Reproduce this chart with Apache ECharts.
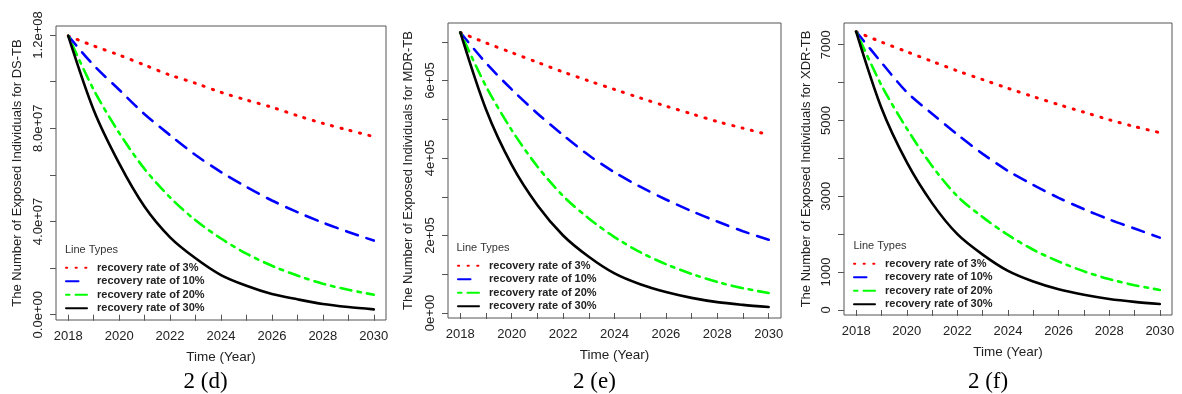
<!DOCTYPE html>
<html>
<head>
<meta charset="utf-8">
<script src="https://cdn.jsdelivr.net/npm/echarts@6/dist/echarts.min.js"></script>
<style>
  html, body { margin: 0; padding: 0; background: #fff; }
  #main { width: 1182px; height: 394px; }
</style>
</head>
<body>
<div id="main"></div>
<script>
// years on the x axis
var years = [2018, 2019, 2020, 2021, 2022, 2023, 2024, 2025, 2026, 2027, 2028, 2029, 2030];
var yearTicks = years;
var yearLabels = [2018, 2020, 2022, 2024, 2026, 2028, 2030];
var rateNames = ['recovery rate of 3%', 'recovery rate of 10%', 'recovery rate of 20%', 'recovery rate of 30%'];

// 2 (d) DS-TB
var ds3  = [1.196e8, 1.153e8, 1.114e8, 1.071e8, 1.028e8, 0.993e8, 0.954e8, 0.921e8, 0.890e8, 0.854e8, 0.821e8, 0.792e8, 0.764e8];
var ds10 = [1.196e8, 1.070e8, 0.965e8, 0.860e8, 0.770e8, 0.685e8, 0.612e8, 0.548e8, 0.490e8, 0.440e8, 0.395e8, 0.355e8, 0.318e8];
var ds20 = [1.196e8, 0.965e8, 0.780e8, 0.625e8, 0.503e8, 0.405e8, 0.327e8, 0.262e8, 0.210e8, 0.168e8, 0.133e8, 0.107e8, 0.086e8];
var ds30 = [1.196e8, 0.878e8, 0.649e8, 0.463e8, 0.332e8, 0.242e8, 0.170e8, 0.124e8, 0.0887e8, 0.066e8, 0.046e8, 0.033e8, 0.023e8];
var dsTicks = [0, 2e7, 4e7, 6e7, 8e7, 1e8, 1.2e8];
var dsLabelVals = [0, 4e7, 8e7, 1.2e8];
var dsLabelText = ['0.0e+00', '4.0e+07', '8.0e+07', '1.2e+08'];

// 2 (e) MDR-TB
var mdr3  = [7.24e5, 6.97e5, 6.72e5, 6.47e5, 6.22e5, 5.99e5, 5.77e5, 5.55e5, 5.34e5, 5.14e5, 4.94e5, 4.77e5, 4.60e5];
var mdr10 = [7.24e5, 6.45e5, 5.77e5, 5.15e5, 4.59e5, 4.07e5, 3.63e5, 3.26e5, 2.93e5, 2.63e5, 2.36e5, 2.11e5, 1.89e5];
var mdr20 = [7.24e5, 5.85e5, 4.72e5, 3.78e5, 3.02e5, 2.44e5, 1.96e5, 1.57e5, 1.26e5, 1.01e5, 0.80e5, 0.64e5, 0.515e5];
var mdr30 = [7.24e5, 5.25e5, 3.82e5, 2.78e5, 2.00e5, 1.45e5, 1.02e5, 0.74e5, 0.54e5, 0.39e5, 0.28e5, 0.21e5, 0.155e5];
var mdrTicks = [0, 1e5, 2e5, 3e5, 4e5, 5e5, 6e5, 7e5];
var mdrLabelVals = [0, 2e5, 4e5, 6e5];
var mdrLabelText = ['0e+00', '2e+05', '4e+05', '6e+05'];

// 2 (f) XDR-TB
var xdr3  = [7345, 7070, 6815, 6560, 6310, 6080, 5850, 5630, 5420, 5220, 5020, 4840, 4680];
var xdr10 = [7345, 6530, 5750, 5180, 4630, 4120, 3670, 3300, 2960, 2660, 2390, 2150, 1910];
var xdr20 = [7345, 5930, 4790, 3800, 3000, 2450, 1980, 1590, 1280, 1020, 815, 655, 530];
var xdr30 = [7345, 5330, 3900, 2820, 2000, 1460, 1030, 750, 545, 400, 290, 215, 160];
var xdrTicks = [0, 1000, 2000, 3000, 4000, 5000, 6000, 7000];
var xdrLabelVals = [0, 1000, 3000, 5000, 7000];
var xdrLabelText = ['0', '1000', '3000', '5000', '7000'];

var font = 'Liberation Sans, Arial, sans-serif';
var colors = ['#ff0000', '#0000ff', '#00ff00', '#000000'];
var dashes = [[1.2, 8.4], [12.5, 9], [3.5, 6, 11.5, 6], 'solid'];

var chart = echarts.init(document.getElementById('main'));

function xAxisFor(idx) {
  return {
    type: 'value', gridIndex: idx, min: 2017.52, max: 2030.48,
    name: 'Time (Year)', nameLocation: 'middle', nameGap: 30,
    nameTextStyle: { fontFamily: font, fontSize: 13.5, color: '#222' },
    axisLine: { show: false },
    splitLine: { show: false },
    axisTick: { show: true, length: 6, customValues: yearTicks, lineStyle: { color: '#555' } },
    axisLabel: {
      customValues: yearLabels, margin: 10, fontFamily: font, fontSize: 13, color: '#222',
      formatter: function (v) { return String(Math.round(v)); }
    }
  };
}

function yAxisFor(idx, name, min, max, ticks, labelVals, labelText, gap) {
  return {
    type: 'value', gridIndex: idx, min: min, max: max,
    name: name, nameLocation: 'middle', nameGap: gap,
    nameTextStyle: { fontFamily: font, fontSize: 13, color: '#222' },
    axisLine: { show: false },
    splitLine: { show: false },
    axisTick: { show: true, length: 6, customValues: ticks, lineStyle: { color: '#555' } },
    axisLabel: {
      customValues: labelVals, rotate: 90, margin: 11,
      fontFamily: font, fontSize: 13, color: '#222',
      formatter: function (v) {
        var i = labelVals.indexOf(v);
        return i >= 0 ? labelText[i] : '';
      }
    }
  };
}

function seriesFor(idx, sets) {
  return sets.map(function (arr, k) {
    return {
      type: 'line', name: rateNames[k], xAxisIndex: idx, yAxisIndex: idx,
      symbol: 'none', smooth: 0.3,
      lineStyle: { color: colors[k], width: k === 0 ? 3 : 2.6, type: dashes[k], cap: 'round' },
      itemStyle: { color: colors[k] },
      data: years.map(function (y, i) { return [y, arr[i]]; })
    };
  });
}

function legendFor(left, top) {
  return {
    orient: 'vertical', left: left, top: top, padding: 0, itemGap: 0,
    itemWidth: 21, itemHeight: 10, selectedMode: false,
    data: rateNames,
    itemStyle: { opacity: 0 },
    textStyle: { fontFamily: font, fontSize: 11, fontWeight: 'bold', color: '#222', lineHeight: 13.5, padding: [0, 0, 0, 5] }
  };
}

function label(text, x, y, size, family, color) {
  return {
    type: 'text', x: x, y: y, silent: true,
    style: { text: text, font: size + 'px ' + family, fill: color, textAlign: 'center', textVerticalAlign: 'middle' }
  };
}

chart.setOption({
  animation: false,
  backgroundColor: '#fff',
  grid: [
    { left: 56, top: 26, width: 330, height: 294, show: true, borderColor: '#555', borderWidth: 1 },
    { left: 448, top: 23, width: 333, height: 295, show: true, borderColor: '#555', borderWidth: 1 },
    { left: 844, top: 23, width: 328, height: 292, show: true, borderColor: '#555', borderWidth: 1 }
  ],
  xAxis: [xAxisFor(0), xAxisFor(1), xAxisFor(2)],
  yAxis: [
    yAxisFor(0, 'The Number of Exposed Individuals for DS-TB', -2.27e6, 1.2385e8, dsTicks, dsLabelVals, dsLabelText, 32),
    yAxisFor(1, 'The Number of Exposed Individuals for MDR-TB', -1.29e4, 7.484e5, mdrTicks, mdrLabelVals, mdrLabelText, 33),
    yAxisFor(2, 'The Number of Exposed Individuals for XDR-TB', -132, 7573, xdrTicks, xdrLabelVals, xdrLabelText, 31)
  ],
  legend: [legendFor(65, 261), legendFor(457, 259), legendFor(853, 257)],
  series: [].concat(
    seriesFor(0, [ds3, ds10, ds20, ds30]),
    seriesFor(1, [mdr3, mdr10, mdr20, mdr30]),
    seriesFor(2, [xdr3, xdr10, xdr20, xdr30])
  ),
  graphic: [
    label('Line Types', 91.5, 250, 11, font, '#333'),
    label('Line Types', 483, 248.3, 11, font, '#333'),
    label('Line Types', 880, 245.7, 11, font, '#333'),
    label('2 (d)', 205.5, 381.5, 23, 'Liberation Serif, Times New Roman, serif', '#000'),
    label('2 (e)', 594.5, 381.5, 23, 'Liberation Serif, Times New Roman, serif', '#000'),
    label('2 (f)', 988, 381.5, 23, 'Liberation Serif, Times New Roman, serif', '#000')
  ]
});
</script>
</body>
</html>
